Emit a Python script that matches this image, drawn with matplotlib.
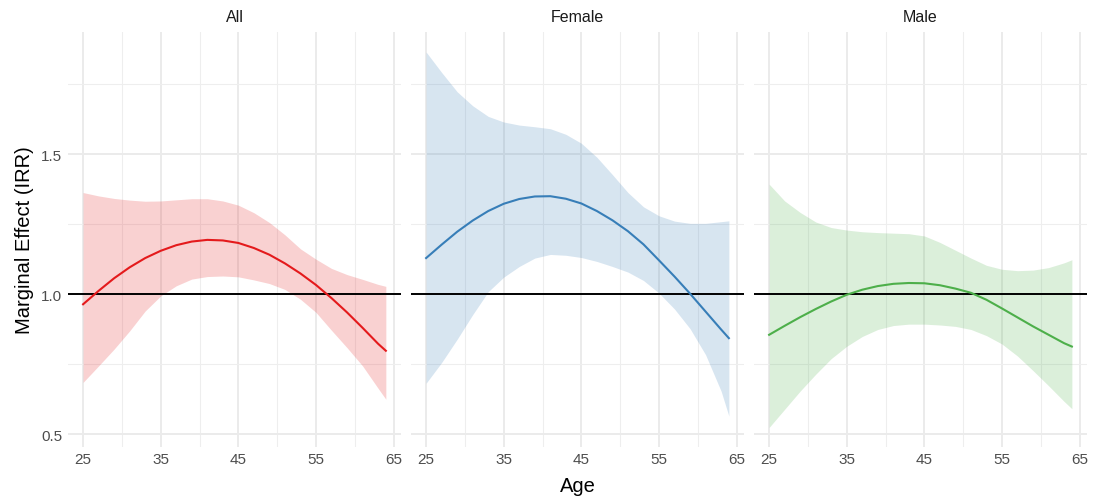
import matplotlib
matplotlib.use("Agg")
import matplotlib.pyplot as plt
from matplotlib.ticker import FixedLocator

plt.rcParams['font.family'] = ['Liberation Sans', 'DejaVu Sans']

age = [25, 27, 29, 31, 33, 35, 37, 39, 41, 43, 45, 47, 49, 51, 53, 55, 57, 59, 61, 63, 64]

panels = ["All", "Female", "Male"]

all_fit = [0.965, 1.013, 1.058, 1.097, 1.130, 1.156, 1.176, 1.189, 1.195, 1.193, 1.184,
           1.166, 1.142, 1.111, 1.075, 1.034, 0.987, 0.936, 0.881, 0.824, 0.799]
all_hi = [1.364, 1.352, 1.343, 1.337, 1.333, 1.334, 1.338, 1.342, 1.342, 1.334, 1.319,
          1.292, 1.257, 1.213, 1.163, 1.126, 1.093, 1.071, 1.054, 1.036, 1.029]
all_lo = [0.686, 0.745, 0.805, 0.870, 0.941, 0.995, 1.031, 1.055, 1.064, 1.066, 1.063,
          1.052, 1.039, 1.018, 0.983, 0.936, 0.872, 0.810, 0.745, 0.665, 0.626]

female_fit = [1.130, 1.178, 1.224, 1.264, 1.298, 1.324, 1.341, 1.350, 1.351, 1.342, 1.325,
              1.298, 1.265, 1.226, 1.179, 1.122, 1.064, 1.003, 0.939, 0.875, 0.844]
female_hi = [1.866, 1.793, 1.724, 1.674, 1.636, 1.616, 1.605, 1.599, 1.592, 1.572, 1.540,
             1.490, 1.428, 1.364, 1.313, 1.281, 1.262, 1.254, 1.254, 1.260, 1.263]
female_lo = [0.683, 0.757, 0.840, 0.928, 1.010, 1.062, 1.100, 1.130, 1.143, 1.140, 1.132,
             1.118, 1.100, 1.080, 1.050, 1.005, 0.948, 0.878, 0.785, 0.655, 0.566]

male_fit = [0.856, 0.888, 0.919, 0.948, 0.975, 0.999, 1.017, 1.030, 1.038, 1.041, 1.040,
            1.033, 1.021, 1.006, 0.981, 0.950, 0.918, 0.886, 0.856, 0.826, 0.814]
male_hi = [1.394, 1.334, 1.293, 1.259, 1.239, 1.230, 1.224, 1.221, 1.219, 1.217, 1.209,
           1.186, 1.158, 1.130, 1.104, 1.090, 1.085, 1.087, 1.096, 1.113, 1.124]
male_lo = [0.525, 0.590, 0.655, 0.715, 0.771, 0.815, 0.850, 0.875, 0.889, 0.894, 0.894,
           0.891, 0.886, 0.875, 0.853, 0.823, 0.780, 0.728, 0.674, 0.618, 0.592]

x_ticks = [25, 35, 45, 55, 65]
x_minor = [30, 40, 50, 60]
y_ticks = [0.5, 1.0, 1.5]
y_minor = [0.75, 1.25, 1.75]
reference = 1.0

colors = ["#E41A1C", "#377EB8", "#4DAF4A"]
series = [(all_fit, all_lo, all_hi), (female_fit, female_lo, female_hi),
          (male_fit, male_lo, male_hi)]

fig, axes = plt.subplots(1, 3, figsize=(10.96, 5.02), dpi=100, sharey=True)
fig.subplots_adjust(left=0.062, right=0.9918, top=0.934, bottom=0.108, wspace=0.03)

for ax, name, (fit, lo, hi), col in zip(axes, panels, series, colors):
    ax.set_xlim(23.05, 65.95)
    ax.set_ylim(0.456, 1.937)
    ax.xaxis.set_major_locator(FixedLocator(x_ticks))
    ax.xaxis.set_minor_locator(FixedLocator(x_minor))
    ax.yaxis.set_major_locator(FixedLocator(y_ticks))
    ax.yaxis.set_minor_locator(FixedLocator(y_minor))
    ax.grid(which="major", color="#EBEBEB", linewidth=1.4, zorder=0)
    ax.grid(which="minor", color="#EEEEEE", linewidth=0.8, zorder=0)
    ax.set_axisbelow(True)
    for s in ax.spines.values():
        s.set_visible(False)
    ax.tick_params(which="both", length=0, labelsize=11, labelcolor="#4D4D4D", pad=4)
    ax.set_xticklabels([str(t) for t in x_ticks])

    ax.fill_between(age, lo, hi, color=col, alpha=0.2, linewidth=0, zorder=2)
    ax.axhline(reference, color="black", linewidth=1.4, zorder=3)
    ax.plot(age, fit, color=col, linewidth=1.5, zorder=4, solid_joinstyle="round")

    ax.text(0.5, 1.02, name, transform=ax.transAxes, ha="center", va="bottom",
            fontsize=11.5, color="#1A1A1A")

axes[0].set_yticklabels(["0.5", "1.0", "1.5"])
axes[0].set_ylabel("Marginal Effect (IRR)", fontsize=14.5, labelpad=5)
fig.text(0.527, 0.03, "Age", ha="center", va="center", fontsize=14.5)

fig.savefig("out.png", dpi=100, facecolor="white")
